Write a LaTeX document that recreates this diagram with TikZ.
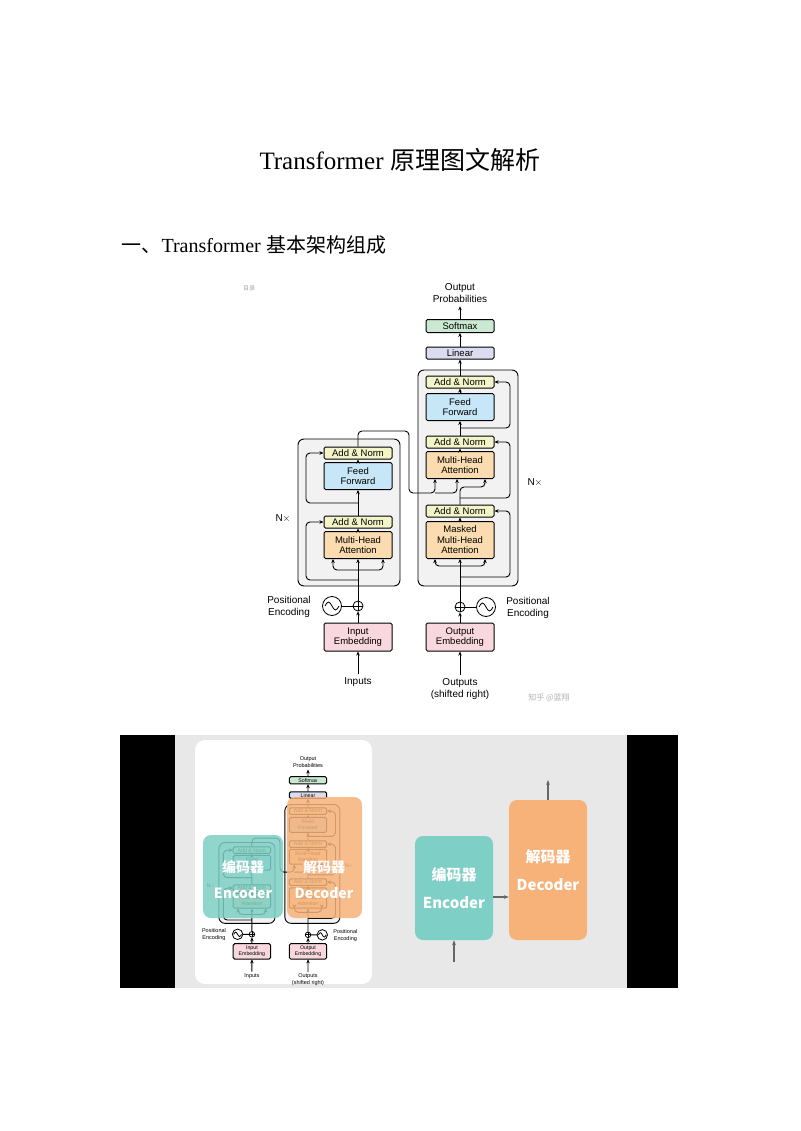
\documentclass[tikz,border=0pt]{standalone}
\usepackage{fontspec}
\setmainfont{Liberation Sans}
\newfontfamily\serif{Liberation Serif}
\newfontfamily\cjk{Noto Sans CJK SC}
\usetikzlibrary{positioning,calc,arrows.meta}

\definecolor{anfill}{HTML}{F3F5C8}
\definecolor{fffill}{HTML}{C7E6F7}
\definecolor{mhafill}{HTML}{FBDCB0}
\definecolor{embfill}{HTML}{F8D8DE}
\definecolor{smfill}{HTML}{CBE8D3}
\definecolor{linfill}{HTML}{DCDCF0}
\definecolor{teal}{HTML}{7ECFC5}
\definecolor{orng}{HTML}{F7B27A}

\tikzset{
  blk/.style={draw, line width=1pt, rounded corners=1.5pt, minimum width=68pt, align=center, font=\fontsize{9.5}{10.5}\selectfont, inner sep=0pt},
  anbox/.style={blk, fill=anfill, minimum height=12pt},
  ffbox/.style={blk, fill=fffill, minimum height=27pt},
  mhabox/.style={blk, fill=mhafill, minimum height=27pt},
  embbox/.style={blk, fill=embfill, minimum height=28pt},
  frame/.style={draw, line width=0.9pt, rounded corners=6pt, fill=black!5},
  lbl/.style={align=center, font=\fontsize{10}{12.5}\selectfont},
  arr/.style={-{Stealth[length=4pt,width=3.5pt]}, line width=0.9pt, rounded corners=4pt},
  wire/.style={line width=0.9pt, rounded corners=4pt},
}

% the architecture figure, drawn at page pixel coordinates
\newcommand{\transformerfig}{
  \node[frame, minimum width=100pt, minimum height=216pt] (decFrame) at (468,478) {};
  \node[frame, minimum width=102pt, minimum height=147pt] (encFrame) at (349,512.5) {};
  % encoder
  \node[anbox] (encAN2) at (358,453) {Add \& Norm};
  \node[ffbox] (encFF) at (358,476) {Feed\\Forward};
  \node[anbox] (encAN1) at (358,522) {Add \& Norm};
  \node[mhabox] (encMHA) at (358,545) {Multi-Head\\Attention};
  \node[lbl] (encN) at (283,518) {N$\times$};
  % decoder
  \node[anbox] (decAN3) at (460,382) {Add \& Norm};
  \node[ffbox] (decFF) at (460,407) {Feed\\Forward};
  \node[anbox] (decAN2) at (460,442) {Add \& Norm};
  \node[mhabox] (decMHA) at (460,465) {Multi-Head\\Attention};
  \node[anbox] (decAN1) at (460,511) {Add \& Norm};
  \node[mhabox, minimum height=37pt] (decMMHA) at (460,540) {Masked\\Multi-Head\\Attention};
  \node[lbl] (decN) at (535,482) {N$\times$};
  \node[blk, fill=linfill, minimum height=12pt] (linear) at (460,353) {Linear};
  \node[blk, fill=smfill, minimum height=13pt] (softmax) at (460,326) {Softmax};
  \node[lbl] (probs) at (460,293) {Output\\Probabilities};
  % inputs
  \node[embbox] (inEmb) at (358,637) {Input\\Embedding};
  \node[embbox] (outEmb) at (460,637) {Output\\Embedding};
  \node[lbl] (inputs) at (358,682) {Inputs};
  \node[lbl] (outputs) at (460,689) {Outputs\\(shifted right)};
  \node[draw, circle, line width=0.8pt, minimum size=10pt, inner sep=0pt] (encPlus) at (358,606) {};
  \node[draw, circle, line width=0.8pt, minimum size=10pt, inner sep=0pt] (decPlus) at (460,607) {};
  \draw[line width=0.8pt] (encPlus.north) -- (encPlus.south) (encPlus.west) -- (encPlus.east);
  \draw[line width=0.8pt] (decPlus.north) -- (decPlus.south) (decPlus.west) -- (decPlus.east);
  \node[draw, circle, line width=0.8pt, minimum size=19pt] (encPE) at (332,606) {};
  \node[draw, circle, line width=0.8pt, minimum size=19pt] (decPE) at (486,607) {};
  \draw[line width=0.8pt] ($(encPE)+(-7,0)$) sin ++(3.5,-4) cos ++(3.5,4) sin ++(3.5,4) cos ++(3.5,-4);
  \draw[line width=0.8pt] ($(decPE)+(-7,0)$) sin ++(3.5,-4) cos ++(3.5,4) sin ++(3.5,4) cos ++(3.5,-4);
  \node[lbl] (encPEl) at (289,607) {Positional\\Encoding};
  \node[lbl] (decPEl) at (528,608) {Positional\\Encoding};
  % encoder connectors
  \draw[arr] (inputs) -- (inEmb);
  \draw[arr] (inEmb) -- (encPlus);
  \draw[wire] (encPE) -- (encPlus);
  \draw[arr] (encPlus) -- (encMHA);
  \draw[arr] (358,570) -- (333,570) -- ($(encMHA.south)+(-25,0)$);
  \draw[arr] (358,570) -- (383,570) -- ($(encMHA.south)+(25,0)$);
  \draw[arr] (358,580) -- (306,580) -- (306,0 |- encAN1.west) -- (encAN1.west);
  \draw[arr] (encMHA) -- (encAN1);
  \draw[arr] (encAN1) -- (encFF);
  \draw[arr] (358,503) -- (306,503) -- (306,0 |- encAN2.west) -- (encAN2.west);
  \draw[arr] (encFF) -- (encAN2);
  \draw[arr] (encAN2.north) -- (358,431) -- (409,431) -- (409,493) -- (435,493) -- ($(decMHA.south)+(-25,0)$);
  \draw[arr] (435,493) -- (457,493) -- ($(decMHA.south)+(-3,0)$);
  % decoder connectors
  \draw[arr] (outputs) -- (outEmb);
  \draw[arr] (outEmb) -- (decPlus);
  \draw[wire] (decPE) -- (decPlus);
  \draw[arr] (decPlus) -- (decMMHA);
  \draw[arr] (460,566) -- (435,566) -- ($(decMMHA.south)+(-25,0)$);
  \draw[arr] (460,566) -- (485,566) -- ($(decMMHA.south)+(25,0)$);
  \draw[arr] (460,577) -- (510,577) -- (510,0 |- decAN1.east) -- (decAN1.east);
  \draw[arr] (decMMHA) -- (decAN1);
  \draw[arr] (decAN1.north) -- (460,487) -- (485,487) -- ($(decMHA.south)+(25,0)$);
  \draw[arr] (460,498) -- (510,498) -- (510,0 |- decAN2.east) -- (decAN2.east);
  \draw[arr] (decMHA) -- (decAN2);
  \draw[arr] (decAN2) -- (decFF);
  \draw[arr] (460,428) -- (510,428) -- (510,0 |- decAN3.east) -- (decAN3.east);
  \draw[arr] (decFF) -- (decAN3);
  \draw[arr] (decAN3) -- (linear);
  \draw[arr] (linear) -- (softmax);
  \draw[arr] (softmax) -- (probs);
}

\begin{document}
\begin{tikzpicture}[x=1pt, y=-1pt]
  \useasboundingbox[fill=white] (0,0) rectangle (800,1131);
  \node (title) at (400,160) {\fontsize{25}{28}\selectfont{\serif Transformer} {\cjk 原理图文解析}};
  \node[anchor=west] (heading) at (118,245) {\fontsize{20}{22}\selectfont{\cjk 一、}{\serif Transformer} {\cjk 基本架构组成}};
  \node[text=black!35, font=\cjk\fontsize{6}{7}\selectfont] (toc) at (249,288) {目录};
  \node[text=black!30, font=\cjk\fontsize{8}{9}\selectfont] (mark) at (549,698) {知乎 @蓝翔};

  \transformerfig

  % video frame
  \fill[black] (120,735) rectangle (678,988);
  \fill[black!9] (175,735) rectangle (627,988);
  \fill[white, rounded corners=10pt] (195,740) rectangle (372,984);
  \begin{scope}[shift={(55,601)}, scale=0.55, transform shape]
    \transformerfig
  \end{scope}
  \fill[teal, opacity=0.85, rounded corners=8pt] (203,835) rectangle (283,918);
  \fill[orng, opacity=0.85, rounded corners=8pt] (287,797) rectangle (362,918);
  \node[text=white, align=center, font=\cjk\bfseries\fontsize{14}{26}\selectfont] (encTxt) at (243,880) {编码器\\Encoder};
  \node[text=white, align=center, font=\cjk\bfseries\fontsize{14}{26}\selectfont] (decTxt) at (324,880) {解码器\\Decoder};

  \node[fill=teal, rounded corners=8pt, minimum width=78pt, minimum height=104pt, text=white, align=center, font=\cjk\bfseries\fontsize{15}{28}\selectfont] (encoder) at (454,888) {编码器\\Encoder};
  \node[fill=orng, rounded corners=8pt, minimum width=78pt, minimum height=140pt, text=white, align=center, font=\cjk\bfseries\fontsize{15}{28}\selectfont] (decoder) at (548,870) {解码器\\Decoder};
  \coordinate (encIn) at (454,962);
  \coordinate (decOut) at (548,780);
  \draw[-{Stealth[length=5pt]}, black!60, line width=1.2pt] (encoder.east |- 0,897) -- (decoder.west |- 0,897);
  \draw[-{Stealth[length=5pt]}, black!60, line width=1.2pt] (encIn) -- (encoder.south);
  \draw[-{Stealth[length=5pt]}, black!60, line width=1.2pt] (decoder.north) -- (decOut);
\end{tikzpicture}
\end{document}
